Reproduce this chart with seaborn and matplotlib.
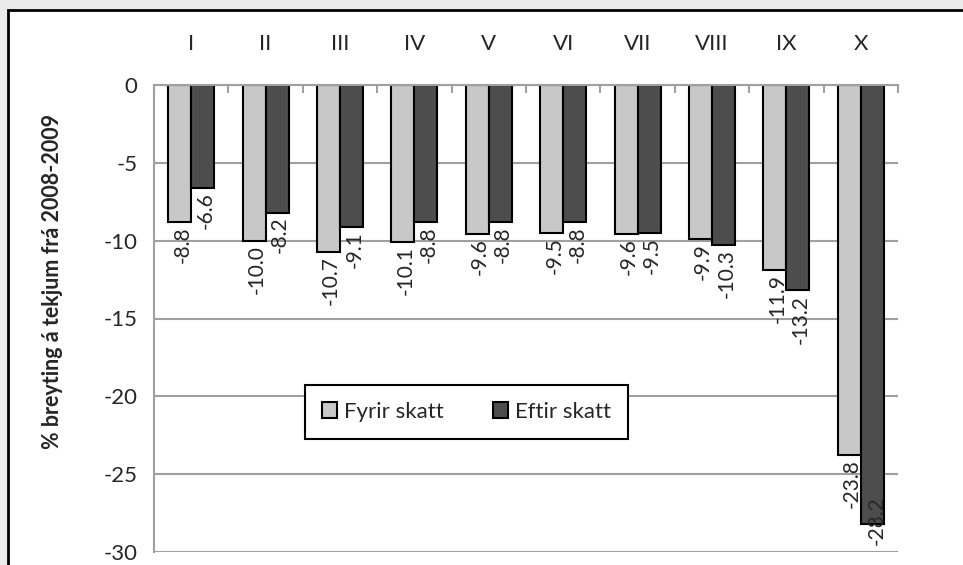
import pandas as pd
import numpy as np
import matplotlib.pyplot as plt
import seaborn as sns
from matplotlib.patches import Rectangle

# Gögn: % breyting á tekjum eftir tekjutíundum
tiundir = ['I', 'II', 'III', 'IV', 'V', 'VI', 'VII', 'VIII', 'IX', 'X']
fyrir_skatt = [-8.8, -10.0, -10.7, -10.1, -9.6, -9.5, -9.6, -9.9, -11.9, -23.8]
eftir_skatt = [-6.6, -8.2, -9.1, -8.8, -8.8, -8.8, -9.5, -10.3, -13.2, -28.2]
raðir = ['Fyrir skatt', 'Eftir skatt']
litir = ['#c8c8c8', '#4d4d4d']

df = pd.DataFrame({
    'Tíund': tiundir * 2,
    'Breyting': fyrir_skatt + eftir_skatt,
    'Röð': [raðir[0]] * len(tiundir) + [raðir[1]] * len(tiundir),
})

sns.set_style('white')
plt.rcParams['font.family'] = ['Lato', 'DejaVu Sans']
plt.rcParams['axes.unicode_minus'] = False

fig = plt.figure(figsize=(9.63, 5.65), dpi=100)
fig.patch.set_facecolor('#ebebeb')
# hvítur rammi utan um myndina
fig.add_artist(Rectangle((8 / 963, -0.1), 1.2, 0.1 + 1 - 10 / 565,
                         transform=fig.transFigure, facecolor='white',
                         edgecolor='black', linewidth=2, zorder=0))

ax = fig.add_axes([154 / 963, 13 / 565, 744 / 963, 467 / 565])
ax.set_facecolor('none')

sns.barplot(data=df, x='Tíund', y='Breyting', hue='Röð', palette=litir,
            edgecolor='black', linewidth=1.5, width=0.62, gap=0, ax=ax)

ax.set_ylim(-30, 0)
ax.set_xlim(-0.5, len(tiundir) - 0.5)
ax.set_yticks(range(-30, 1, 5))
ax.yaxis.grid(True, color='#a0a0a0', linewidth=1.5)
ax.set_axisbelow(True)

# x-ás efst
ax.xaxis.tick_top()
ax.xaxis.set_label_position('top')
ax.set_xlabel('')
ax.tick_params(axis='x', which='major', length=0, pad=22, labelsize=16)
ax.set_xticks(np.arange(-0.5, len(tiundir), 1), minor=True)
ax.tick_params(axis='x', which='minor', direction='in', length=6,
               width=1.5, color='#a0a0a0', top=True)
ax.tick_params(axis='y', direction='out', length=8, width=1.5,
               color='#a0a0a0', labelsize=16, pad=4)

for hlid in ['right', 'bottom']:
    ax.spines[hlid].set_visible(False)
for hlid in ['left', 'top']:
    ax.spines[hlid].set_color('#a0a0a0')
    ax.spines[hlid].set_linewidth(1.5)

ax.set_ylabel('% breyting á tekjum frá 2008-2009', fontsize=15.5, fontweight='bold')
ax.yaxis.set_label_coords(-0.122, 0.58)

# gildismerki
for cont, gildi in zip(ax.containers, [fyrir_skatt, eftir_skatt]):
    merki = ax.bar_label(cont, labels=[f'{v:.1f}' for v in gildi],
                         rotation=90, padding=3, fontsize=15)
    for m in merki:
        m.xyann = (2, m.xyann[1])
    if gildi is eftir_skatt:
        merki[-1].xyann = (3, 20)

ax.legend(loc='center', bbox_to_anchor=(0.42, 0.30), ncol=2, fontsize=16,
          frameon=True, fancybox=False, edgecolor='black', framealpha=1,
          handlelength=0.7, handleheight=0.7, handletextpad=0.3,
          columnspacing=2.2, borderpad=0.75).get_frame().set_linewidth(1.5)

plt.savefig('out.png', dpi=100, facecolor=fig.get_facecolor())
